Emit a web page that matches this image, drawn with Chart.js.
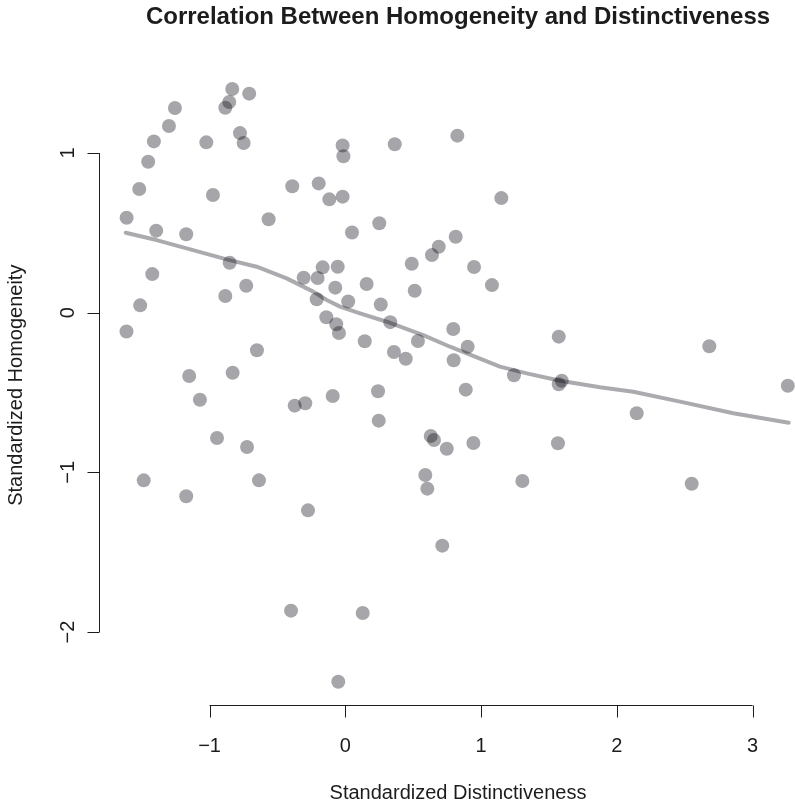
<!DOCTYPE html>
<html>
<head>
<meta charset="utf-8">
<title>Correlation Between Homogeneity and Distinctiveness</title>
<script src="https://cdn.jsdelivr.net/npm/chart.js@4.4.1/dist/chart.umd.min.js"></script>
<style>
  html, body { margin: 0; padding: 0; background: #ffffff; }
  #wrap { width: 795px; height: 803px; }
</style>
</head>
<body>
<div id="wrap"><canvas id="scatterChart" width="795" height="803"></canvas></div>
<script>
const chartTitle = "Correlation Between Homogeneity and Distinctiveness";
const xTitle = "Standardized Distinctiveness";
const yTitle = "Standardized Homogeneity";

// standardized distinctiveness (x) and homogeneity (y)
const distinctiveness = [
  -0.833, -0.708, -0.855, -0.884, -1.255, -1.299, -0.776, -0.749, -1.410, -1.024,
  -0.020, -0.014, -1.452, -1.518, -0.391, -0.196, -0.118, -0.020, -0.975, -1.611,
  -0.565, 0.049, -1.393, -1.172, -0.852, -1.422, -0.167, -0.056, -0.307, -0.204,
  -0.730, -0.074, -0.884, -0.211, 0.021, -1.511, -0.140, -0.067, -1.612, -0.047,
  0.143, -0.651, -1.150, -0.830, -1.071, -0.373, -0.295, -0.093, -0.945, -0.724,
  -1.485, -0.636, -1.172, -0.275, 0.364, 0.825, 1.149, 0.250, 0.813, 0.688,
  0.638, 0.489, 0.948, 0.157, 0.511, 1.080, 0.261, 0.331, 0.795, 0.358,
  0.445, 0.535, 0.901, 0.798, 1.572, 1.242, 1.594, 1.572, 0.241, 0.887,
  0.246, 0.629, 0.653, 0.747, 0.943, 1.566, 0.589, 0.604, 1.304, 0.714,
  2.681, 3.259, 2.146, 2.551, -0.400, 0.128, -0.052
];
const homogeneity = [
  1.401, 1.372, 1.320, 1.284, 1.282, 1.169, 1.125, 1.063, 1.073, 1.067,
  1.047, 0.980, 0.946, 0.775, 0.792, 0.810, 0.710, 0.727, 0.737, 0.595,
  0.585, 0.502, 0.514, 0.491, 0.313, 0.242, 0.284, 0.288, 0.219, 0.217,
  0.169, 0.157, 0.105, 0.084, 0.070, 0.046, -0.028, -0.072, -0.118, -0.127,
  -0.179, -0.235, -0.396, -0.376, -0.545, -0.582, -0.567, -0.522, -0.785, -0.841,
  -1.050, -1.050, -1.150, -1.238, 1.055, 1.109, 0.718, 0.560, 0.476, 0.413,
  0.361, 0.307, 0.286, 0.180, 0.138, 0.173, 0.051, -0.059, -0.102, -0.246,
  -0.288, -0.177, -0.213, -0.298, -0.150, -0.392, -0.426, -0.448, -0.492, -0.482,
  -0.676, -0.772, -0.797, -0.852, -0.816, -0.818, -1.016, -1.102, -1.054, -1.459,
  -0.210, -0.457, -0.630, -1.071, -1.866, -1.881, -2.311
];

// smoothed (lowess) curve vertices
const lowessX = [-1.618, -1.390, -0.874, -0.653, -0.432, -0.236, -0.137, -0.039, 0.108, 0.329,
  0.574, 0.771, 1.139, 1.336, 1.582, 1.876, 2.121, 2.465, 2.858, 3.266];
const lowessY = [0.501, 0.455, 0.334, 0.288, 0.215, 0.132, 0.080, 0.038, -0.004, -0.063,
  -0.140, -0.213, -0.338, -0.380, -0.426, -0.467, -0.495, -0.557, -0.630, -0.689];

const xTicks = [-1, 0, 1, 2, 3];
const yTicks = [-2, -1, 0, 1];

const xRange = [-1.807, 3.312];
const yRange = [-2.457, 1.549];

function tickText(v) {
  return v < 0 ? "\u2212" + Math.abs(v) : String(v);
}

const pointColor = "rgba(0, 0, 12, 0.35)";
const lineColor = "rgba(0, 0, 12, 0.33)";
const inkColor = "#1c1c1c";
const fontFamily = "'Liberation Sans', Arial, Helvetica, sans-serif";

// draws R-style axes (line only between first and last tick), labels and titles
const baseAxesPlugin = {
  id: "baseAxes",
  afterDraw(chart) {
    const ctx = chart.ctx;
    const xs = chart.scales.x;
    const ys = chart.scales.y;
    const area = chart.chartArea;
    const axisY = Math.round(area.bottom) + 0.5;
    const axisX = Math.round(area.left) - 0.5;
    const tickLen = 12;

    ctx.save();
    ctx.strokeStyle = inkColor;
    ctx.lineWidth = 1;

    // x axis
    const x0 = xs.getPixelForValue(xTicks[0]);
    const x1 = xs.getPixelForValue(xTicks[xTicks.length - 1]);
    ctx.beginPath();
    ctx.moveTo(x0, axisY);
    ctx.lineTo(x1, axisY);
    xTicks.forEach((t) => {
      const px = Math.round(xs.getPixelForValue(t)) + 0.5;
      ctx.moveTo(px, axisY);
      ctx.lineTo(px, axisY + tickLen);
    });
    ctx.stroke();

    // y axis
    const y0 = ys.getPixelForValue(yTicks[0]);
    const y1 = ys.getPixelForValue(yTicks[yTicks.length - 1]);
    ctx.beginPath();
    ctx.moveTo(axisX, y0);
    ctx.lineTo(axisX, y1);
    yTicks.forEach((t) => {
      const py = Math.round(ys.getPixelForValue(t)) + 0.5;
      ctx.moveTo(axisX, py);
      ctx.lineTo(axisX - tickLen, py);
    });
    ctx.stroke();

    ctx.fillStyle = inkColor;
    ctx.font = "20px " + fontFamily;
    ctx.textAlign = "center";
    ctx.textBaseline = "alphabetic";

    xTicks.forEach((t) => {
      ctx.fillText(tickText(t), xs.getPixelForValue(t), 752);
    });

    yTicks.forEach((t) => {
      ctx.save();
      ctx.translate(74, ys.getPixelForValue(t));
      ctx.rotate(-Math.PI / 2);
      ctx.fillText(tickText(t), 0, 0);
      ctx.restore();
    });

    // axis titles, centred on the plot region
    const midX = 458;
    const midY = (area.top + area.bottom) / 2;
    ctx.fillText(xTitle, midX, 799);

    ctx.save();
    ctx.translate(22, midY);
    ctx.rotate(-Math.PI / 2);
    ctx.fillText(yTitle, 0, 0);
    ctx.restore();

    // main title
    ctx.font = "bold 24px " + fontFamily;
    ctx.fillText(chartTitle, midX, 24);

    ctx.restore();
  },
};

const points = distinctiveness.map((x, i) => ({ x: x, y: homogeneity[i] }));
const curve = lowessX.map((x, i) => ({ x: x, y: lowessY[i] }));

const ctx = document.getElementById("scatterChart");
new Chart(ctx, {
  type: "scatter",
  data: {
    datasets: [
      {
        label: "Ratings",
        data: points,
        pointRadius: 7,
        pointHoverRadius: 7,
        pointBorderWidth: 0,
        pointBackgroundColor: pointColor,
        pointBorderColor: "rgba(0,0,0,0)",
        clip: false,
      },
      {
        label: "Lowess",
        type: "line",
        data: curve,
        borderColor: lineColor,
        borderWidth: 4,
        borderJoinStyle: "round",
        borderCapStyle: "round",
        pointRadius: 0,
        tension: 0,
        fill: false,
        clip: false,
      },
    ],
  },
  options: {
    responsive: false,
    animation: false,
    devicePixelRatio: 1,
    layout: {
      autoPadding: false,
      padding: { left: 100, right: 0, top: 65.4, bottom: 98 },
    },
    plugins: {
      legend: { display: false },
      tooltip: { enabled: false },
      title: { display: false },
    },
    scales: {
      x: {
        type: "linear",
        min: xRange[0],
        max: xRange[1],
        display: false,
      },
      y: {
        type: "linear",
        min: yRange[0],
        max: yRange[1],
        display: false,
      },
    },
  },
  plugins: [baseAxesPlugin],
});
</script>
</body>
</html>
